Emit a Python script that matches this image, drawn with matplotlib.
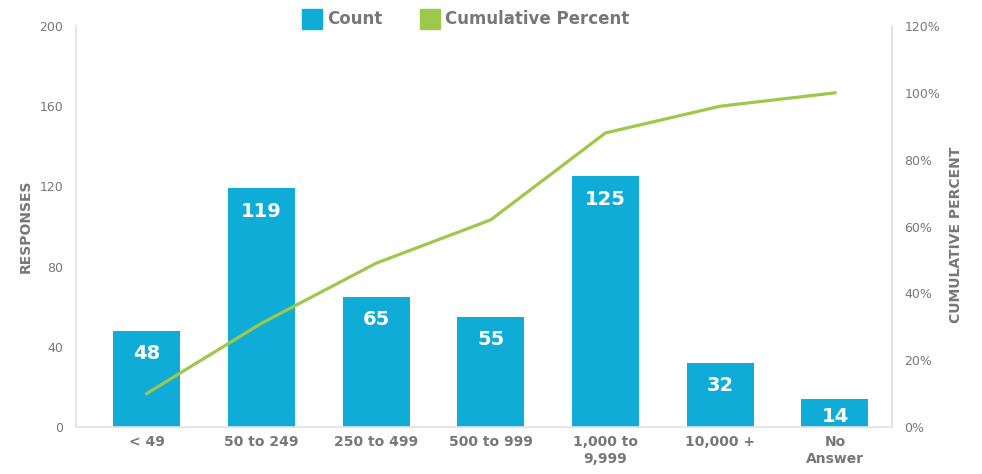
import matplotlib
matplotlib.use("Agg")
import matplotlib.pyplot as plt
from matplotlib.patches import Rectangle
from matplotlib.ticker import FuncFormatter

categories = ["< 49", "50 to 249", "250 to 499", "500 to 999", "1,000 to\n9,999", "10,000 +", "No\nAnswer"]
counts = [48, 119, 65, 55, 125, 32, 14]
cum_percent = [10, 31, 49, 62, 88, 96, 100]
left_ticks = [0, 40, 80, 120, 160, 200]
right_ticks = [0, 20, 40, 60, 80, 100, 120]

BLUE = "#0EACD6"
GREEN = "#9DC84B"
GREY = "#777777"
SPINE = "#e2e2e2"

plt.rcParams["font.family"] = ["DejaVu Sans"]

fig = plt.figure(figsize=(9.82, 4.74), dpi=100)
W, H = 982, 474
ax = fig.add_axes([76 / W, 1 - 427 / H, (892 - 76) / W, (427 - 26) / H])

x = list(range(len(categories)))
bars = ax.bar(x, counts, width=0.584, color=BLUE, zorder=2)
ax.set_xlim(-0.615, 6.497)
ax.set_ylim(0, 200)
ax.set_yticks(left_ticks)
ax.set_xticks(x)
ax.set_xticklabels(categories, fontsize=10, fontweight="bold", color=GREY, linespacing=1.25)
ax.tick_params(axis="x", length=0, pad=6)
ax.tick_params(axis="y", length=0, pad=9, labelsize=9, labelcolor=GREY)
ax.spines["top"].set_visible(False)
for s in ["left", "right", "bottom"]:
    ax.spines[s].set_color(SPINE)
    ax.spines[s].set_linewidth(1.2)
ax.set_ylabel("RESPONSES", fontsize=10, fontweight="bold", color=GREY)
ax.yaxis.set_label_coords(-0.053, 0.5)

px_per_unit = (427 - 26) / 200
for xi, v in zip(x, counts):
    h_px = v * px_per_unit
    off_px = min(23, h_px * 0.62)
    ax.annotate(str(v), (xi, v), xytext=(0, -off_px * 0.72), textcoords="offset points",
                ha="center", va="center", color="white", fontsize=14, fontweight="bold", zorder=4)

ax2 = ax.twinx()
ax2.set_ylim(0, 120)
ax2.set_yticks(right_ticks)
ax2.yaxis.set_major_formatter(FuncFormatter(lambda v, p: f"{int(v)}%"))
ax2.tick_params(axis="y", length=0, pad=9, labelsize=9, labelcolor=GREY)
for s in ["top", "left", "bottom"]:
    ax2.spines[s].set_visible(False)
ax2.spines["right"].set_color(SPINE)
ax2.spines["right"].set_linewidth(1.2)
ax2.plot(x, cum_percent, color=GREEN, linewidth=2.3, zorder=3)
ax2.set_ylabel("CUMULATIVE PERCENT", fontsize=10, fontweight="bold", color=GREY)
ax2.yaxis.set_label_coords(1.070, 0.48)

# Legend
for (x0, label, col) in [(302, "Count", BLUE), (420, "Cumulative Percent", GREEN)]:
    fig.patches.append(Rectangle((x0 / W, 1 - 29 / H), 20 / W, 20 / H,
                                 transform=fig.transFigure, color=col))
    fig.text((x0 + 25) / W, 1 - 19 / H, label, fontsize=12, fontweight="bold",
             color=GREY, ha="left", va="center")

fig.savefig("out.png", dpi=100)
